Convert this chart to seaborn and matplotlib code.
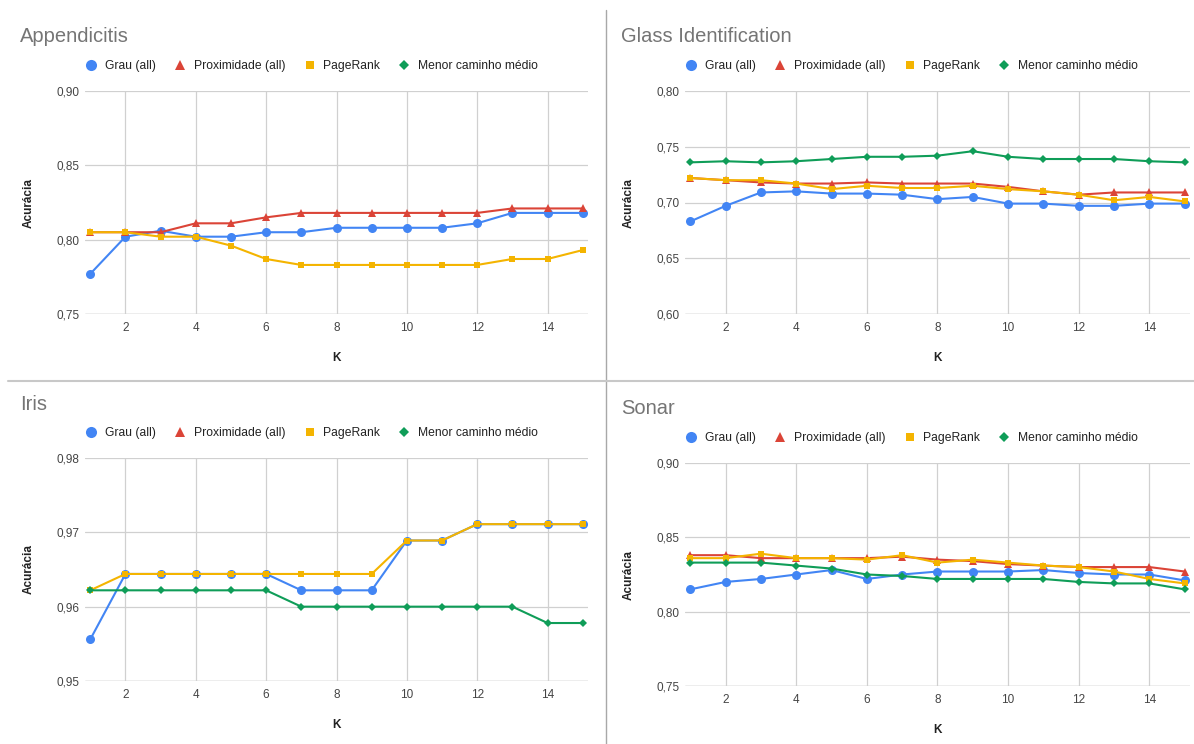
import matplotlib
matplotlib.use("Agg")
import matplotlib.pyplot as plt
from matplotlib.lines import Line2D
from matplotlib.ticker import FuncFormatter
import seaborn as sns

# values (accuracy per K)
k = list(range(1, 16))
series_names = ["Grau (all)", "Proximidade (all)", "PageRank", "Menor caminho médio"]

app_grau = [0.777, 0.802, 0.806, 0.802, 0.802, 0.805, 0.805, 0.808, 0.808, 0.808, 0.808, 0.811, 0.818, 0.818, 0.818]
app_prox = [0.805, 0.805, 0.805, 0.811, 0.811, 0.815, 0.818, 0.818, 0.818, 0.818, 0.818, 0.818, 0.821, 0.821, 0.821]
app_pr = [0.805, 0.805, 0.802, 0.802, 0.796, 0.787, 0.783, 0.783, 0.783, 0.783, 0.783, 0.783, 0.787, 0.787, 0.793]
app_menor = None  # not drawn in the reference

glass_grau = [0.683, 0.697, 0.709, 0.710, 0.708, 0.708, 0.707, 0.703, 0.705, 0.699, 0.699, 0.697, 0.697, 0.699, 0.699]
glass_prox = [0.722, 0.720, 0.718, 0.717, 0.717, 0.718, 0.717, 0.717, 0.717, 0.714, 0.710, 0.707, 0.709, 0.709, 0.709]
glass_pr = [0.722, 0.720, 0.720, 0.717, 0.712, 0.715, 0.713, 0.713, 0.715, 0.712, 0.710, 0.707, 0.702, 0.705, 0.701]
glass_menor = [0.736, 0.737, 0.736, 0.737, 0.739, 0.741, 0.741, 0.742, 0.746, 0.741, 0.739, 0.739, 0.739, 0.737, 0.736]

iris_grau = [0.9556, 0.9644, 0.9644, 0.9644, 0.9644, 0.9644, 0.9622, 0.9622, 0.9622, 0.9689, 0.9689, 0.9711, 0.9711, 0.9711, 0.9711]
iris_prox = None  # hidden under PageRank in the reference
iris_pr = [0.9622, 0.9644, 0.9644, 0.9644, 0.9644, 0.9644, 0.9644, 0.9644, 0.9644, 0.9689, 0.9689, 0.9711, 0.9711, 0.9711, 0.9711]
iris_menor = [0.9622, 0.9622, 0.9622, 0.9622, 0.9622, 0.9622, 0.9600, 0.9600, 0.9600, 0.9600, 0.9600, 0.9600, 0.9600, 0.9578, 0.9578]

sonar_grau = [0.815, 0.820, 0.822, 0.825, 0.828, 0.822, 0.825, 0.827, 0.827, 0.827, 0.828, 0.826, 0.825, 0.825, 0.821]
sonar_prox = [0.838, 0.838, 0.836, 0.836, 0.836, 0.836, 0.837, 0.835, 0.834, 0.832, 0.831, 0.830, 0.830, 0.830, 0.827]
sonar_pr = [0.836, 0.836, 0.839, 0.836, 0.836, 0.835, 0.838, 0.833, 0.835, 0.833, 0.831, 0.830, 0.827, 0.822, 0.819]
sonar_menor = [0.833, 0.833, 0.833, 0.831, 0.829, 0.825, 0.824, 0.822, 0.822, 0.822, 0.822, 0.820, 0.819, 0.819, 0.815]

app_ticks = [0.75, 0.80, 0.85, 0.90]
glass_ticks = [0.60, 0.65, 0.70, 0.75, 0.80]
iris_ticks = [0.95, 0.96, 0.97, 0.98]
sonar_ticks = [0.75, 0.80, 0.85, 0.90]

colors = ["#4285F4", "#DB4437", "#F4B400", "#0F9D58"]
markers = ["o", "^", "s", "D"]
msizes = [6.5, 5.5, 4.6, 3.9]
leg_msizes = [8, 7, 5.5, 5]

sns.set_style("white")
plt.rcParams["font.family"] = ["Liberation Sans", "DejaVu Sans"]

W, H = 1194, 744
fig = plt.figure(figsize=(W / 100, H / 100), dpi=100)

def px_axes(left, top, right, bottom):
    return fig.add_axes([left / W, 1 - bottom / H, (right - left) / W, (bottom - top) / H])

panels = [
    ("Appendicitis", (85, 91, 588, 314), (20, 37), [app_grau, app_prox, app_pr, app_menor], app_ticks),
    ("Glass Identification", (685, 91, 1190, 314), (621, 37), [glass_grau, glass_prox, glass_pr, glass_menor], glass_ticks),
    ("Iris", (85, 458, 588, 681), (20, 404), [iris_grau, iris_prox, iris_pr, iris_menor], iris_ticks),
    ("Sonar", (685, 463, 1190, 686), (621, 409), [sonar_grau, sonar_prox, sonar_pr, sonar_menor], sonar_ticks),
]

comma = FuncFormatter(lambda v, p: f"{v:.2f}".replace(".", ","))

for title, box, tpos, data, yticks in panels:
    ax = px_axes(*box)
    for vals, c, m, ms in zip(data, colors, markers, msizes):
        if vals is None:
            continue
        sns.lineplot(x=k, y=vals, ax=ax, color=c, marker=m, markersize=ms,
                     markeredgewidth=0, linewidth=1.5, legend=False)
    pad = 0.15
    ax.set_xlim(1 - pad, 15 + pad)
    ax.set_ylim(yticks[0], yticks[-1])
    ax.set_xticks([2, 4, 6, 8, 10, 12, 14])
    ax.set_yticks(yticks)
    ax.yaxis.set_major_formatter(comma)
    ax.grid(True, color="#d0d0d0", linewidth=0.9)
    ax.set_axisbelow(True)
    for s in ax.spines.values():
        s.set_visible(False)
    ax.tick_params(length=0, labelsize=8.5, labelcolor="#444444")
    ax.tick_params(axis="x", pad=6)
    ax.tick_params(axis="y", pad=4)
    ax.axhline(yticks[0], color="#bdbdbd", linewidth=1, zorder=0.5)
    ax.set_xlabel("K", fontsize=8.5, fontweight="bold", color="#222222")
    ax.set_ylabel("Acurácia", fontsize=8.5, fontweight="bold", color="#222222")
    ax_w = box[2] - box[0]
    ax_h = box[3] - box[1]
    ax.xaxis.set_label_coords(0.5, -38 / ax_h)
    ax.yaxis.set_label_coords(-50 / ax_w, 0.5)

    fig.text(tpos[0] / W, 1 - tpos[1] / H, title, fontsize=14.5, color="#757575", va="center", ha="left")

    handles = [Line2D([], [], color=c, marker=m, linestyle="none", markersize=ms, markeredgewidth=0)
               for c, m, ms in zip(colors, markers, leg_msizes)]
    ax.legend(handles, series_names, loc="center left", bbox_to_anchor=(0, 1 + 25 / ax_h),
              ncol=4, frameon=False, fontsize=8.7, handlelength=1.0, handletextpad=0.65,
              columnspacing=1.5, borderpad=0, borderaxespad=0, labelcolor="#222222")

# panel separators
fig.add_artist(Line2D([606 / W, 606 / W], [0, 1 - 10 / H], color="#a8a8a8", linewidth=1.0))
fig.add_artist(Line2D([8 / W, 1], [1 - 381 / H, 1 - 381 / H], color="#c8c8c8", linewidth=1.5))

fig.savefig("out.png", dpi=100)
